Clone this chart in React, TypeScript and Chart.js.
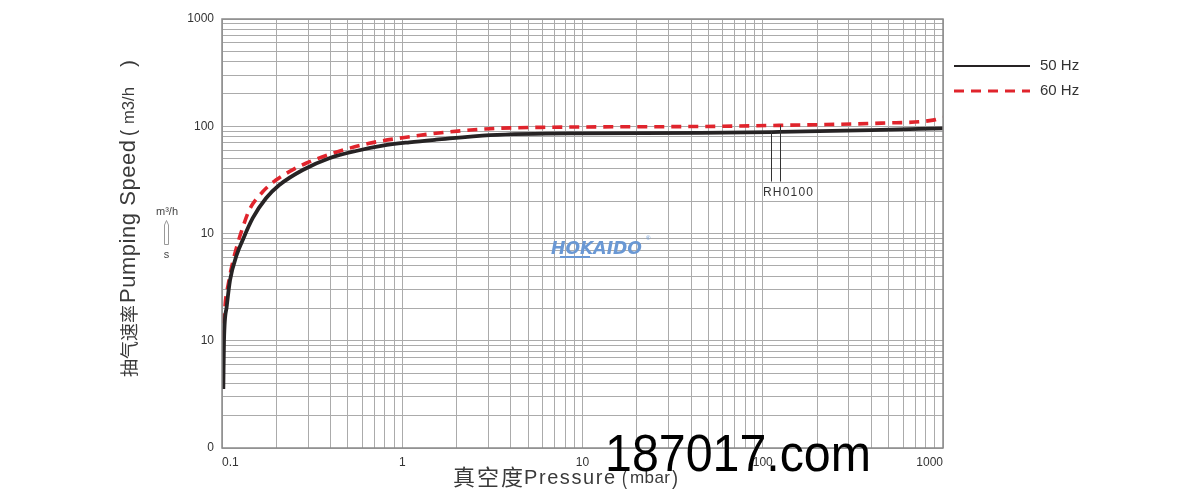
import React, { useEffect, useRef } from 'react';
import { Chart, registerables } from 'chart.js';

Chart.register(...registerables);

// ---------- data ----------
const seriesLabels = ['50 Hz', '60 Hz'];

const pressure50 = [0.1017, 0.1026, 0.1062, 0.1108, 0.1206, 0.1303, 0.148, 0.1754, 0.2079, 0.2804, 0.3938, 0.5539, 0.7789, 1.094, 1.539, 3.07, 9.6, 45, 124, 400, 1000];
const speed50 = [0.355, 1.01, 2.08, 3.68, 6.3, 8.7, 13.9, 21.3, 28.3, 39.1, 50.3, 58.8, 65.9, 70.8, 74.9, 82.7, 86, 86.6, 88.5, 92, 95.6];

const pressure60 = [0.1017, 0.1039, 0.1084, 0.1132, 0.1206, 0.1313, 0.1417, 0.1682, 0.1993, 0.2363, 0.2924, 0.4291, 0.6565, 1.006, 1.539, 3.07, 6.3, 45, 124, 456, 880, 1000];
const speed60 = [1.01, 2.08, 3.38, 4.9, 7.5, 11.8, 16.6, 24.5, 31.5, 37.7, 45.2, 57.2, 69.4, 78.2, 86.0, 94.9, 97.8, 99.5, 102, 107, 114, 121];

const xTickValues = [0.1, 1, 10, 100, 1000];
const xTickLabels = ['0.1', '1', '10', '100', '1000'];
const yTickValues = [1000, 100, 10, 1, 0.1];
const yTickLabels = ['1000', '100', '10', '10', '0'];

const modelName = 'RH0100';
const annotationPressures = [111, 124];
const annotationTopSpeeds = [88.3, 102];
const annotationBottomSpeed = 30.5;
const annotationLabelPressure = 138;
const annotationLabelSpeed = 24;

const xTitleCJK = '真空度';
const xTitleLatin = 'Pressure';
const xTitleUnit = 'mbar';
const yTitleCJK = '抽气速率';
const yTitleLatin = 'Pumping Speed';
const yTitleUnit = 'm3/h';
const logoText = 'HOKAIDO';
const watermarkText = '187017.com';

// ---------- helpers ----------
const LATIN = '"Liberation Sans", Arial, Helvetica, sans-serif';
const CJK = '"Noto Sans CJK SC", "Noto Sans", sans-serif';

function logGrid(minExp: number, maxExp: number): number[] {
  const out: number[] = [];
  for (let e = minExp; e < maxExp; e++) {
    for (let m = 1; m <= 9; m++) out.push(parseFloat((m * Math.pow(10, e)).toPrecision(6)));
  }
  out.push(Math.pow(10, maxExp));
  return out;
}

function spacedText(ctx: CanvasRenderingContext2D, text: string, x: number, y: number, target: number) {
  const c: any = ctx;
  c.letterSpacing = '0px';
  const w = ctx.measureText(text).width;
  const n = text.length;
  ctx.textAlign = 'left';
  if (n > 1 && target > w && 'letterSpacing' in c) {
    c.letterSpacing = (target - w) / (n - 1) + 'px';
    ctx.fillText(text, x, y);
    c.letterSpacing = '0px';
  } else {
    const s = target / w;
    ctx.save();
    ctx.translate(x, y);
    ctx.scale(s, 1);
    ctx.fillText(text, 0, 0);
    ctx.restore();
  }
}

const overlayPlugin = {
  id: 'overlay',
  afterDraw(chart: any) {
    const ctx: CanvasRenderingContext2D = chart.ctx;
    const { left, right, top, bottom } = chart.chartArea;
    const xs = chart.scales.x;
    const ys = chart.scales.y;
    ctx.save();

    // frame
    ctx.strokeStyle = '#8a8a8a';
    ctx.lineWidth = 1.5;
    ctx.strokeRect(left, top, right - left, bottom - top);

    // x tick labels
    ctx.fillStyle = '#333';
    ctx.font = `12px ${LATIN}`;
    ctx.textBaseline = 'middle';
    xTickValues.forEach((v, i) => {
      ctx.textAlign = i === 0 ? 'left' : i === xTickValues.length - 1 ? 'right' : 'center';
      ctx.fillText(xTickLabels[i], xs.getPixelForValue(v), 463);
    });

    // x title
    ctx.fillStyle = '#3a3a3a';
    ctx.textBaseline = 'alphabetic';
    ctx.font = `22px ${CJK}`;
    spacedText(ctx, xTitleCJK, 453, 485, 70);
    ctx.font = `20px ${LATIN}`;
    spacedText(ctx, xTitleLatin, 524, 484, 91);
    ctx.font = `20px ${LATIN}`;
    spacedText(ctx, '(', 622, 485, 5);
    ctx.font = `17px ${LATIN}`;
    spacedText(ctx, xTitleUnit, 630, 483, 40);
    ctx.font = `20px ${LATIN}`;
    spacedText(ctx, ')', 672, 485, 6);

    // y title (rotated)
    ctx.save();
    ctx.translate(129, 377);
    ctx.rotate(-Math.PI / 2);
    ctx.textBaseline = 'middle';
    ctx.font = `18px ${CJK}`;
    spacedText(ctx, yTitleCJK, 0, 0, 72);
    ctx.font = `22px ${LATIN}`;
    spacedText(ctx, yTitleLatin, 74, 0, 163);
    ctx.font = `20px ${LATIN}`;
    spacedText(ctx, '(', 241, 0, 6);
    ctx.font = `17px ${LATIN}`;
    spacedText(ctx, yTitleUnit, 253, 0, 37);
    ctx.font = `20px ${LATIN}`;
    spacedText(ctx, ')', 310, 0, 7);
    ctx.restore();

    // small unit marker m³/h  ⇧  s
    ctx.fillStyle = '#444';
    ctx.textBaseline = 'middle';
    ctx.textAlign = 'center';
    ctx.font = `11px ${LATIN}`;
    ctx.fillText('m³/h', 167, 212);
    ctx.fillText('s', 166.5, 255);
    ctx.strokeStyle = '#999';
    ctx.lineWidth = 1;
    ctx.beginPath();
    ctx.moveTo(164.5, 244.5);
    ctx.lineTo(164.5, 225);
    ctx.lineTo(166.5, 220.5);
    ctx.lineTo(168.5, 225);
    ctx.lineTo(168.5, 244.5);
    ctx.closePath();
    ctx.stroke();

    // legend
    const ds = chart.data.datasets;
    const legendY = [66, 91];
    ds.forEach((d: any, i: number) => {
      ctx.save();
      ctx.strokeStyle = d.borderColor;
      ctx.lineWidth = i === 0 ? 2.2 : 3.2;
      ctx.setLineDash(d.borderDash || []);
      ctx.beginPath();
      ctx.moveTo(954, legendY[i]);
      ctx.lineTo(1030, legendY[i]);
      ctx.stroke();
      ctx.restore();
      ctx.fillStyle = '#333';
      ctx.font = `15px ${LATIN}`;
      ctx.textAlign = 'left';
      ctx.textBaseline = 'middle';
      ctx.fillText(d.label, 1040, legendY[i]);
    });

    // model annotation
    ctx.strokeStyle = '#333';
    ctx.lineWidth = 1;
    annotationPressures.forEach((p, i) => {
      const px = Math.round(xs.getPixelForValue(p)) + 0.5;
      ctx.beginPath();
      ctx.moveTo(px, ys.getPixelForValue(annotationTopSpeeds[i]));
      ctx.lineTo(px, ys.getPixelForValue(annotationBottomSpeed));
      ctx.stroke();
    });
    ctx.fillStyle = '#333';
    ctx.font = `12px ${LATIN}`;
    ctx.textBaseline = 'middle';
    const lx = xs.getPixelForValue(annotationLabelPressure);
    spacedText(ctx, modelName, lx - 25, ys.getPixelForValue(annotationLabelSpeed), 50);

    // logo
    ctx.fillStyle = '#6a98d4';
    ctx.textBaseline = 'alphabetic';
    ctx.font = `italic bold 18px "DejaVu Sans", ${LATIN}`;
    spacedText(ctx, logoText, 551, 254, 91);
    ctx.strokeStyle = '#6a98d4';
    ctx.lineWidth = 2;
    ctx.beginPath();
    ctx.moveTo(560, 257);
    ctx.lineTo(590, 257);
    ctx.stroke();
    ctx.font = `6px ${LATIN}`;
    ctx.fillText('®', 646, 240);

    // watermark
    ctx.fillStyle = '#000';
    ctx.font = `52px ${LATIN}`;
    ctx.textBaseline = 'alphabetic';
    spacedText(ctx, watermarkText, 605, 471, 266);

    ctx.restore();
  },
};

export default function App() {
  const ref = useRef<HTMLCanvasElement>(null);

  useEffect(() => {
    if (!ref.current) return;
    const xGrid = logGrid(-1, 3);
    const yGrid = logGrid(-1, 3);
    const chart = new Chart(ref.current, {
      type: 'line',
      data: {
        datasets: [
          {
            label: seriesLabels[0],
            data: pressure50.map((p, i) => ({ x: p, y: speed50[i] })),
            borderColor: '#262324',
            borderWidth: 3.8,
            pointRadius: 0,
            cubicInterpolationMode: 'monotone',
            fill: false,
          },
          {
            label: seriesLabels[1],
            data: pressure60.map((p, i) => ({ x: p, y: speed60[i] })),
            borderColor: '#e0242c',
            borderWidth: 3.6,
            borderDash: [10, 7],
            pointRadius: 0,
            cubicInterpolationMode: 'monotone',
            fill: false,
          },
        ],
      },
      options: {
        responsive: false,
        devicePixelRatio: 1,
        animation: false,
        layout: { padding: { left: 0, right: 257, top: 19, bottom: 0 } },
        plugins: { legend: { display: false }, tooltip: { enabled: false }, title: { display: false } },
        scales: {
          x: {
            type: 'logarithmic',
            min: 0.1,
            max: 1000,
            afterBuildTicks: (scale: any) => {
              scale.ticks = xGrid.map((v) => ({ value: v }));
            },
            afterFit: (scale: any) => {
              scale.height = 49;
            },
            ticks: { display: false, autoSkip: false },
            grid: { color: '#ababab', lineWidth: 1, drawTicks: false },
            border: { display: false },
          },
          y: {
            type: 'logarithmic',
            min: 0.1,
            max: 1000,
            afterBuildTicks: (scale: any) => {
              scale.ticks = yGrid.map((v) => ({ value: v }));
            },
            afterFit: (scale: any) => {
              scale.width = 222;
            },
            ticks: {
              autoSkip: false,
              padding: 8,
              color: '#333',
              font: { family: LATIN, size: 12 },
              callback: (v: any) => {
                const i = yTickValues.findIndex((t) => Math.abs(Math.log10(t) - Math.log10(Number(v))) < 1e-6);
                return i >= 0 ? yTickLabels[i] : '';
              },
            },
            grid: { color: '#ababab', lineWidth: 1, drawTicks: false },
            border: { display: false },
          },
        },
      },
      plugins: [overlayPlugin],
    } as any);
    return () => chart.destroy();
  }, []);

  return (
    <div style={{ position: 'absolute', left: 0, top: 0, width: 1200, height: 497, background: '#fff' }}>
      <canvas ref={ref} width={1200} height={497} style={{ display: 'block', width: 1200, height: 497 }} />
    </div>
  );
}
